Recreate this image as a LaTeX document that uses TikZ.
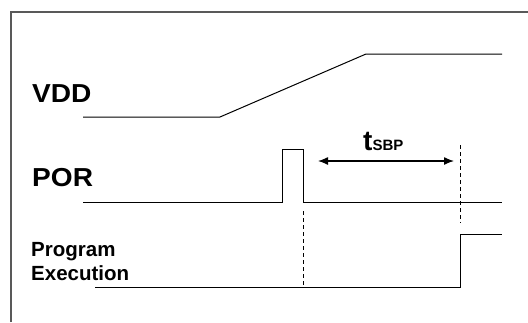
\documentclass[tikz,border=0pt]{standalone}
\usepackage{fontspec}
\setmainfont{Liberation Sans}
\usetikzlibrary{positioning}
\usetikzlibrary{arrows.meta}

\begin{document}
\begin{tikzpicture}
        [x=1pt,y=-1pt,
         signal/.style={line width=1pt},
         marker/.style={line width=0.8pt,dash pattern=on 4pt off 3pt},
         label/.style={font=\bfseries,inner sep=0pt,anchor=base west}]
      \useasboundingbox (0,0) rectangle (528,322);
      \draw [gray!70!black,line width=1.4pt] (11,322) -- (11,12) -- (528,12);
      \node[label,font=\bfseries\fontsize{26}{26}\selectfont,xscale=1.08,transform shape] (vdd) at (32,102) {VDD};
      \node[label,font=\bfseries\fontsize{26}{26}\selectfont,xscale=1.08,transform shape] (por) at (32,186) {POR};
      \node[label,font=\bfseries\fontsize{20.5}{20.5}\selectfont] (prog) at (31,256) {Program};
      \node[label,font=\bfseries\fontsize{20.5}{20.5}\selectfont] (exec) at (31,280.5) {Execution};
      \coordinate (V0) at (83,117);
      \coordinate (V1) at (220,117);
      \coordinate (V2) at (366,54);
      \coordinate (V3) at (502,54);
      \draw [signal] (V0) -- (V1) -- (V2) -- (V3);
      \coordinate (P0) at (83,202);
      \coordinate (P1) at (282,202);
      \coordinate (P2) at (282,149);
      \coordinate (P3) at (303,149);
      \coordinate (P4) at (303,202);
      \coordinate (P5) at (502,202);
      \draw [signal] (P0) -- (P1) -- (P2) -- (P3) -- (P4) -- (P5);
      \coordinate (E0) at (95,287);
      \coordinate (E1) at (460,287);
      \coordinate (E2) at (460,234);
      \coordinate (E3) at (502,234);
      \draw [signal] (E0) -- (E1) -- (E2) -- (E3);
      \coordinate (D0) at (303,211);
      \coordinate (D1) at (303,286);
      \coordinate (D2) at (460,145);
      \coordinate (D3) at (460,223);
      \draw [marker] (D0) -- (D1);
      \draw [marker] (D2) -- (D3);
      \coordinate (A0) at (318,161);
      \coordinate (A1) at (454,161);
      \path [{Latex[length=10pt,width=8pt]}-{Latex[length=10pt,width=8pt]},line width=1.3pt] (A0) edge (A1);
      \node[label] (tsbp) at (363,150) {\fontsize{28}{28}\selectfont t\fontsize{15}{15}\selectfont SBP};
      \end{tikzpicture}
\end{document}
